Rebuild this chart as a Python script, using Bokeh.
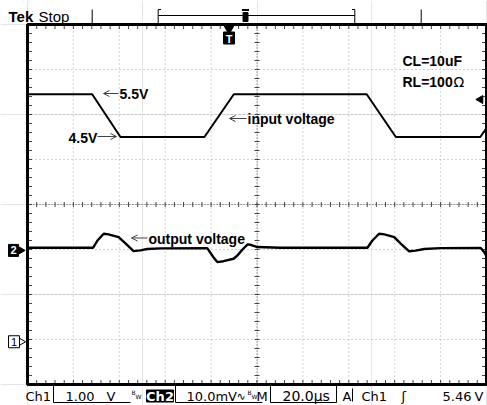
import numpy as np
from bokeh.plotting import figure
from bokeh.models import Range1d, Arrow, OpenHead
from bokeh.core.properties import value
from bokeh.embed import file_html
from bokeh.resources import INLINE

# ---------------- data ----------------
# Ch1: input voltage (V), 1 V/div
in_time_us = [0, 28.2, 40.5, 77.1, 89.9, 147.8, 160.5, 197.3, 200]
in_volts = [5.5, 5.5, 4.55, 4.55, 5.5, 5.5, 4.55, 4.55, 4.75]

# Ch2: output voltage (mV, AC), 10 mV/div
out_time_us = [0, 28.6, 30.5, 33.2, 35.3, 39.7, 42.7, 46.2, 49.2, 52.2, 58.0,
               78.3, 81.0, 82.7, 85.4, 89.8, 91.5, 93.6, 95.9, 97.2, 100.2, 110.2,
               148.1, 150.3, 153.2, 155.5, 159.8, 162.5, 166.3, 169.1, 172.9, 180.0,
               197.5, 199.1, 200]
out_mv = [0.6, 0.6, 2.2, 3.7, 3.55, 2.95, 1.55, -0.15, 0.0, 0.3, 0.45,
          0.5, -1.5, -2.6, -2.4, -1.85, -1.1, 0.15, 1.35, 1.25, 0.75, 0.6,
          0.6, 2.2, 3.7, 3.55, 2.95, 1.55, -0.2, -0.05, 0.3, 0.5,
          0.55, -0.45, -1.3]

ch1_scale_v = 1.0      # V/div
ch2_scale_mv = 10.0    # mV/div
ch1_ground_div = 0.95
ch2_ground_div = 2.98
time_per_div_us = 20.0
n_hdiv, n_vdiv = 10, 8

# ---------------- geometry helpers (page pixels -> data) ----------------
PX_PER_US = 459 / (n_hdiv * time_per_div_us)
PX_PER_DIV = 45.0
X0_PAGE, Y0_PAGE = 27.0, 384.0   # graticule left / bottom in the picture


def tx(px):
    return (px - X0_PAGE) / PX_PER_US


def dy(py):
    return (Y0_PAGE - py) / PX_PER_DIV


W, H = 487, 405
p = figure(width=W, height=H, x_range=Range1d(tx(0), tx(W)),
           y_range=Range1d(dy(H), dy(0)), toolbar_location=None,
           output_backend="svg", min_border=0, x_axis_location=None,
           y_axis_location=None)
p.outline_line_color = None
p.background_fill_color = "white"
p.border_fill_color = "white"

tmax = n_hdiv * time_per_div_us

# graticule grid
grid_t = [time_per_div_us * k for k in range(1, n_hdiv) if k != n_hdiv // 2]
grid_d = [k for k in range(1, n_vdiv) if k != n_vdiv // 2]
p.segment(x0=grid_t, y0=0, x1=grid_t, y1=n_vdiv, line_color="#a8a8a8",
          line_dash="1 3", line_width=1)
p.segment(x0=0, y0=grid_d, x1=tmax, y1=grid_d, line_color="#a8a8a8",
          line_dash="1 3", line_width=1)

# centre cross with minor ticks
minor_t = np.arange(0, tmax + 0.01, time_per_div_us / 5)
minor_d = np.arange(0, n_vdiv + 0.001, 0.2)
p.segment(x0=[0], y0=[n_vdiv / 2], x1=[tmax], y1=[n_vdiv / 2],
          line_color="#555555", line_dash="1 2", line_width=1)
p.segment(x0=[tmax / 2], y0=[0], x1=[tmax / 2], y1=[n_vdiv],
          line_color="#555555", line_dash="1 2", line_width=1)
p.segment(x0=minor_t, y0=n_vdiv / 2 - 2.5 / PX_PER_DIV, x1=minor_t,
          y1=n_vdiv / 2 + 2.5 / PX_PER_DIV, line_color="#444444", line_width=1)
p.segment(x0=tmax / 2 - 2.5 / PX_PER_US, y0=minor_d,
          x1=tmax / 2 + 2.5 / PX_PER_US, y1=minor_d, line_color="#444444",
          line_width=1)

# edge ticks
tl = 4.5
p.segment(x0=minor_t, y0=n_vdiv, x1=minor_t, y1=n_vdiv - tl / PX_PER_DIV,
          line_color="#444444", line_width=1)
p.segment(x0=minor_t, y0=0, x1=minor_t, y1=tl / PX_PER_DIV,
          line_color="#444444", line_width=1)
p.segment(x0=0, y0=minor_d, x1=tl / PX_PER_US, y1=minor_d,
          line_color="#444444", line_width=1)
p.segment(x0=tmax, y0=minor_d, x1=tmax - tl / PX_PER_US, y1=minor_d,
          line_color="#444444", line_width=1)

# border
p.quad(left=[0], right=[tmax], bottom=[0], top=[n_vdiv], fill_color=None,
       line_color="black", line_width=3)

# traces
in_div = [ch1_ground_div + v / ch1_scale_v for v in in_volts]
out_div = [ch2_ground_div + m / ch2_scale_mv for m in out_mv]
p.line(in_time_us, in_div, line_color="black", line_width=2)
p.line(out_time_us, out_div, line_color="black", line_width=2.4)


def txt(xpx, ypx, s, size, bold=False, color="black", align="left",
        font="Liberation Sans"):
    p.text(x=[tx(xpx)], y=[dy(ypx)], text=[s], text_font=value(font),
           text_font_size=value(f"{size}px"),
           text_font_style="bold" if bold else "normal", text_color=color,
           text_align=align, text_baseline="middle")


def hline(x0, x1, y, w=1, c="black"):
    p.segment(x0=[tx(x0)], y0=[dy(y)], x1=[tx(x1)], y1=[dy(y)],
              line_color=c, line_width=w)


def vline(x, y0, y1, w=1, c="black"):
    p.segment(x0=[tx(x)], y0=[dy(y0)], x1=[tx(x)], y1=[dy(y1)],
              line_color=c, line_width=w)


def arrow(x0, y0, x1, y1):
    p.add_layout(Arrow(end=OpenHead(size=6, line_width=1, line_color="#444444"),
                       x_start=tx(x0), y_start=dy(y0), x_end=tx(x1),
                       y_end=dy(y1), line_width=1, line_color="#444444"))


# annotations
txt(119, 93.5, "5.5V", 14, bold=True)
arrow(118, 93, 103, 93)
txt(68, 137.5, "4.5V", 14, bold=True)
arrow(97, 136, 116, 136)
txt(247, 118.5, "input voltage", 14, bold=True)
arrow(246, 118, 229, 118)
txt(148, 238.5, "output voltage", 14, bold=True)
arrow(147, 237.5, 131, 237.5)
txt(402, 60.5, "CL=10uF", 14, bold=True)
txt(402, 81, "RL=100", 14, bold=True)
txt(453, 81, "Ω", 14, font="DejaVu Sans")

# header
txt(8, 15.5, "Tek", 15, bold=True)
txt(38, 15.5, "Stop", 15)
vline(91.7, 9, 23)
vline(420.7, 9, 23)
vline(157.7, 9, 23)
vline(354.3, 9, 23)
hline(157.7, 354.3, 15)
hline(157.7, 160.5, 9)
hline(351.5, 354.3, 9)
p.quad(left=[tx(242.5)], right=[tx(247.5)], bottom=[dy(21)], top=[dy(12)],
       fill_color="black", line_color="black")
hline(241.5, 248.5, 9.5, w=2)

# trigger position marker
p.scatter(x=[tx(228.5)], y=[dy(27.5)], marker="inverted_triangle", size=11,
          fill_color="black", line_color="black")
p.quad(left=[tx(223)], right=[tx(234)], bottom=[dy(43.5)], top=[dy(31.5)],
       fill_color="black", line_color="black")
txt(228.5, 38, "T", 11, bold=True, color="white", align="center")

# trigger level marker (right)
p.scatter(x=[tx(480)], y=[dy(99)], marker="triangle", angle=np.pi / 2,
          size=8, fill_color="black", line_color="black")

# channel ground markers
y2 = Y0_PAGE - ch2_ground_div * PX_PER_DIV
p.quad(left=[tx(8)], right=[tx(18)], bottom=[dy(y2 + 6)], top=[dy(y2 - 6)],
       fill_color="black", line_color="black")
p.scatter(x=[tx(20)], y=[ch2_ground_div], marker="triangle", angle=-np.pi / 2,
          size=8, fill_color="black", line_color="black")
txt(13, y2, "2", 11, bold=True, color="white", align="center")

y1 = Y0_PAGE - ch1_ground_div * PX_PER_DIV
p.scatter(x=[tx(20.5)], y=[ch1_ground_div], marker="triangle",
          angle=-np.pi / 2, size=8, fill_color="white", line_color="black")
p.quad(left=[tx(8)], right=[tx(19)], bottom=[dy(y1 + 6)], top=[dy(y1 - 6)],
       fill_color="white", line_color="black")
txt(13.5, y1, "1", 11, color="black", align="center")

# footer
FY = 395.5
F = "DejaVu Sans"
txt(25, FY, "Ch1", 13, font=F)
vline(53, 385, 402)
hline(53, 130, 402)
txt(65, FY, "1.00", 13, font=F)
txt(106, FY, "V", 13, font=F)
txt(131, 392, "B", 6, font=F)
txt(135, 396, "W", 6, font=F)
p.quad(left=[tx(146)], right=[tx(173)], bottom=[dy(401.5)], top=[dy(389.5)],
       fill_color="black", line_color="black")
txt(159.5, FY, "Ch2", 13, bold=True, color="white", align="center", font=F)
vline(175, 385, 402)
hline(175, 262, 402)
txt(186, FY, "10.0mV", 13, font=F)
txt(236, FY, "∿", 11, font=F)
txt(247, 392, "B", 6, font=F)
txt(251, 396, "W", 6, font=F)
txt(256, FY, "M", 13, font=F)
vline(270, 385, 402)
vline(336, 385, 402)
hline(270, 336, 402)
txt(282, FY, "20.0µs", 14, font=F)
txt(342, FY, "A", 13, font=F)
vline(352, 388, 401)
txt(361, FY, "Ch1", 13, font=F)
txt(401, FY, "ʃ", 13, font=F)
txt(442, FY, "5.46", 13, font=F)
txt(474, FY, "V", 13, font=F)

open("out.html", "w").write(file_html(p, INLINE))
